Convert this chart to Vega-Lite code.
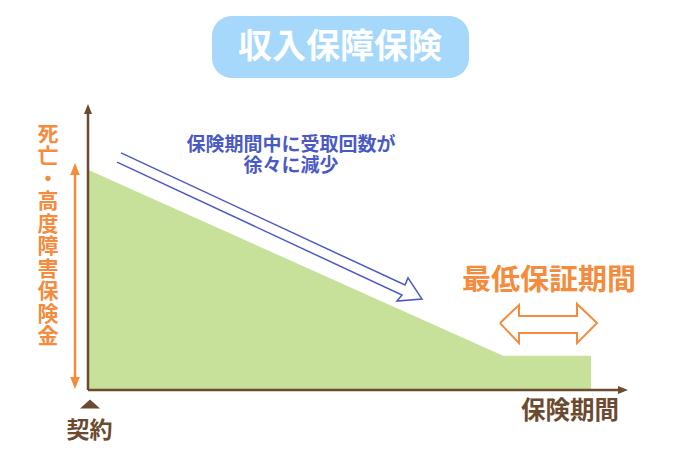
{
  "$schema": "https://vega.github.io/schema/vega-lite/v6.json",
  "width": 540,
  "height": 286,
  "autosize": "none",
  "padding": {"left": 88, "top": 104, "right": 52, "bottom": 70},
  "background": "white",
  "config": {"view": {"stroke": null}, "text": {"font": "Noto Sans CJK JP", "fontWeight": "bold"}},
  "datasets": {
    "benefit": [
      {"t": 0, "v": 77},
      {"t": 83, "v": 12},
      {"t": 100.6, "v": 12}
    ],
    "decline_arrow": [
      {"i": 1, "x": 6.6, "y": 82.9},
      {"i": 2, "x": 63.4, "y": 36.7},
      {"i": 3, "x": 64.0, "y": 39.2},
      {"i": 4, "x": 66.8, "y": 31.8},
      {"i": 5, "x": 61.8, "y": 31.1},
      {"i": 6, "x": 62.8, "y": 33.2},
      {"i": 7, "x": 5.8, "y": 79.7}
    ],
    "min_arrow": [
      {"i": 1, "x": 82.4, "y": 23.4},
      {"i": 2, "x": 86.2, "y": 29.7},
      {"i": 3, "x": 86.2, "y": 25.9},
      {"i": 4, "x": 97.8, "y": 25.9},
      {"i": 5, "x": 97.8, "y": 30.1},
      {"i": 6, "x": 101.8, "y": 23.4},
      {"i": 7, "x": 97.8, "y": 16.4},
      {"i": 8, "x": 97.8, "y": 19.9},
      {"i": 9, "x": 86.2, "y": 19.9},
      {"i": 10, "x": 86.2, "y": 16.4},
      {"i": 11, "x": 82.4, "y": 23.4}
    ],
    "side_label": [
      {"ch": "死", "y": 89.2},
      {"ch": "亡", "y": 81.3},
      {"ch": "・", "y": 73.5},
      {"ch": "高", "y": 65.6},
      {"ch": "度", "y": 57.7},
      {"ch": "障", "y": 49.9},
      {"ch": "害", "y": 42.0},
      {"ch": "保", "y": 34.1},
      {"ch": "険", "y": 26.3},
      {"ch": "金", "y": 18.4}
    ]
  },
  "layer": [
    {
      "data": {"values": [{"x": 24.8, "x2": 76.2, "y": 109.1, "y2": 130.8}]},
      "mark": {"type": "rect", "cornerRadius": 20, "color": "#a6d8fb"},
      "encoding": {
        "x": {"field": "x", "type": "quantitative", "scale": {"domain": [0, 108], "nice": false, "zero": false}, "axis": null},
        "x2": {"field": "x2"},
        "y": {"field": "y", "type": "quantitative", "scale": {"domain": [0, 100], "nice": false, "zero": false}, "axis": null},
        "y2": {"field": "y2"}
      }
    },
    {
      "data": {"values": [{"label": "収入保障保険", "x": 50.4, "y": 119.6}]},
      "mark": {"type": "text", "fontSize": 34, "color": "white", "baseline": "middle"},
      "encoding": {
        "x": {"field": "x", "type": "quantitative"},
        "y": {"field": "y", "type": "quantitative"},
        "text": {"field": "label"}
      }
    },
    {
      "data": {"name": "benefit"},
      "mark": {"type": "area", "color": "#c7e19b", "opacity": 1},
      "encoding": {
        "x": {"field": "t", "type": "quantitative"},
        "y": {"field": "v", "type": "quantitative"}
      }
    },
    {
      "data": {"values": [{"x": 0, "y": 0, "y2": 97}]},
      "mark": {"type": "rule", "color": "#6b4a2f", "strokeWidth": 2.5},
      "encoding": {
        "x": {"field": "x", "type": "quantitative"},
        "y": {"field": "y", "type": "quantitative"},
        "y2": {"field": "y2"}
      }
    },
    {
      "data": {"values": [{"x": 0, "x2": 106, "y": 0}]},
      "mark": {"type": "rule", "color": "#6b4a2f", "strokeWidth": 2.5},
      "encoding": {
        "x": {"field": "x", "type": "quantitative"},
        "x2": {"field": "x2"},
        "y": {"field": "y", "type": "quantitative"}
      }
    },
    {
      "data": {"values": [{"x": 0, "y": 98.25}]},
      "mark": {"type": "point", "shape": "M0,-1L0.8,1L-0.8,1Z", "size": 100, "filled": true, "color": "#6b4a2f", "opacity": 1},
      "encoding": {
        "x": {"field": "x", "type": "quantitative"},
        "y": {"field": "y", "type": "quantitative"}
      }
    },
    {
      "data": {"values": [{"x": 107, "y": 0}]},
      "mark": {"type": "point", "shape": "M1,0L-1,-0.8L-1,0.8Z", "size": 100, "filled": true, "color": "#6b4a2f", "opacity": 1},
      "encoding": {
        "x": {"field": "x", "type": "quantitative"},
        "y": {"field": "y", "type": "quantitative"}
      }
    },
    {
      "data": {"values": [{"x": -2.6, "y": 2.5, "y2": 77.3}]},
      "mark": {"type": "rule", "color": "#f58b3c", "strokeWidth": 2.5},
      "encoding": {
        "x": {"field": "x", "type": "quantitative"},
        "y": {"field": "y", "type": "quantitative"},
        "y2": {"field": "y2"}
      }
    },
    {
      "data": {"values": [{"x": -2.6, "y": 77.3}]},
      "mark": {"type": "point", "shape": "M0,-1L0.8,1L-0.8,1Z", "size": 144, "filled": true, "color": "#f58b3c", "opacity": 1},
      "encoding": {
        "x": {"field": "x", "type": "quantitative"},
        "y": {"field": "y", "type": "quantitative"}
      }
    },
    {
      "data": {"values": [{"x": -2.6, "y": 2.45}]},
      "mark": {"type": "point", "shape": "M0,1L0.8,-1L-0.8,-1Z", "size": 144, "filled": true, "color": "#f58b3c", "opacity": 1},
      "encoding": {
        "x": {"field": "x", "type": "quantitative"},
        "y": {"field": "y", "type": "quantitative"}
      }
    },
    {
      "data": {"name": "side_label"},
      "mark": {"type": "text", "fontSize": 21, "color": "#f58b3c", "baseline": "middle", "align": "center"},
      "encoding": {
        "x": {"datum": -8, "type": "quantitative"},
        "y": {"field": "y", "type": "quantitative"},
        "text": {"field": "ch"}
      }
    },
    {
      "data": {"name": "decline_arrow"},
      "mark": {"type": "line", "color": "#4a5ac4", "strokeWidth": 1.5, "strokeJoin": "miter"},
      "encoding": {
        "x": {"field": "x", "type": "quantitative"},
        "y": {"field": "y", "type": "quantitative"},
        "order": {"field": "i"}
      }
    },
    {
      "data": {"values": [{"label": "保険期間中に受取回数が", "x": 40.6, "y": 85.7}, {"label": "徐々に減少", "x": 40.6, "y": 78.3}]},
      "mark": {"type": "text", "fontSize": 19, "color": "#4a5ac4", "baseline": "middle", "align": "center"},
      "encoding": {
        "x": {"field": "x", "type": "quantitative"},
        "y": {"field": "y", "type": "quantitative"},
        "text": {"field": "label"}
      }
    },
    {
      "data": {"name": "min_arrow"},
      "mark": {"type": "line", "color": "#f58b3c", "strokeWidth": 2, "strokeJoin": "miter"},
      "encoding": {
        "x": {"field": "x", "type": "quantitative"},
        "y": {"field": "y", "type": "quantitative"},
        "order": {"field": "i"}
      }
    },
    {
      "data": {"values": [{"label": "最低保証期間", "x": 92.2, "y": 38.1}]},
      "mark": {"type": "text", "fontSize": 29, "color": "#f58b3c", "baseline": "middle", "align": "center"},
      "encoding": {
        "x": {"field": "x", "type": "quantitative"},
        "y": {"field": "y", "type": "quantitative"},
        "text": {"field": "label"}
      }
    },
    {
      "data": {"values": [{"label": "保険期間", "x": 96.4, "y": -7.7}]},
      "mark": {"type": "text", "fontSize": 24.5, "color": "#6b4a2f", "baseline": "middle", "align": "center"},
      "encoding": {
        "x": {"field": "x", "type": "quantitative"},
        "y": {"field": "y", "type": "quantitative"},
        "text": {"field": "label"}
      }
    },
    {
      "data": {"values": [{"x": 0.4, "y": -4.9}]},
      "mark": {"type": "point", "shape": "M-1,0.45L1,0.45L0,-0.45Z", "size": 400, "filled": true, "color": "#6b4a2f", "opacity": 1},
      "encoding": {
        "x": {"field": "x", "type": "quantitative"},
        "y": {"field": "y", "type": "quantitative"}
      }
    },
    {
      "data": {"values": [{"label": "契約", "x": 0.3, "y": -14.3}]},
      "mark": {"type": "text", "fontSize": 23, "color": "#6b4a2f", "baseline": "middle", "align": "center"},
      "encoding": {
        "x": {"field": "x", "type": "quantitative"},
        "y": {"field": "y", "type": "quantitative"},
        "text": {"field": "label"}
      }
    }
  ]
}
